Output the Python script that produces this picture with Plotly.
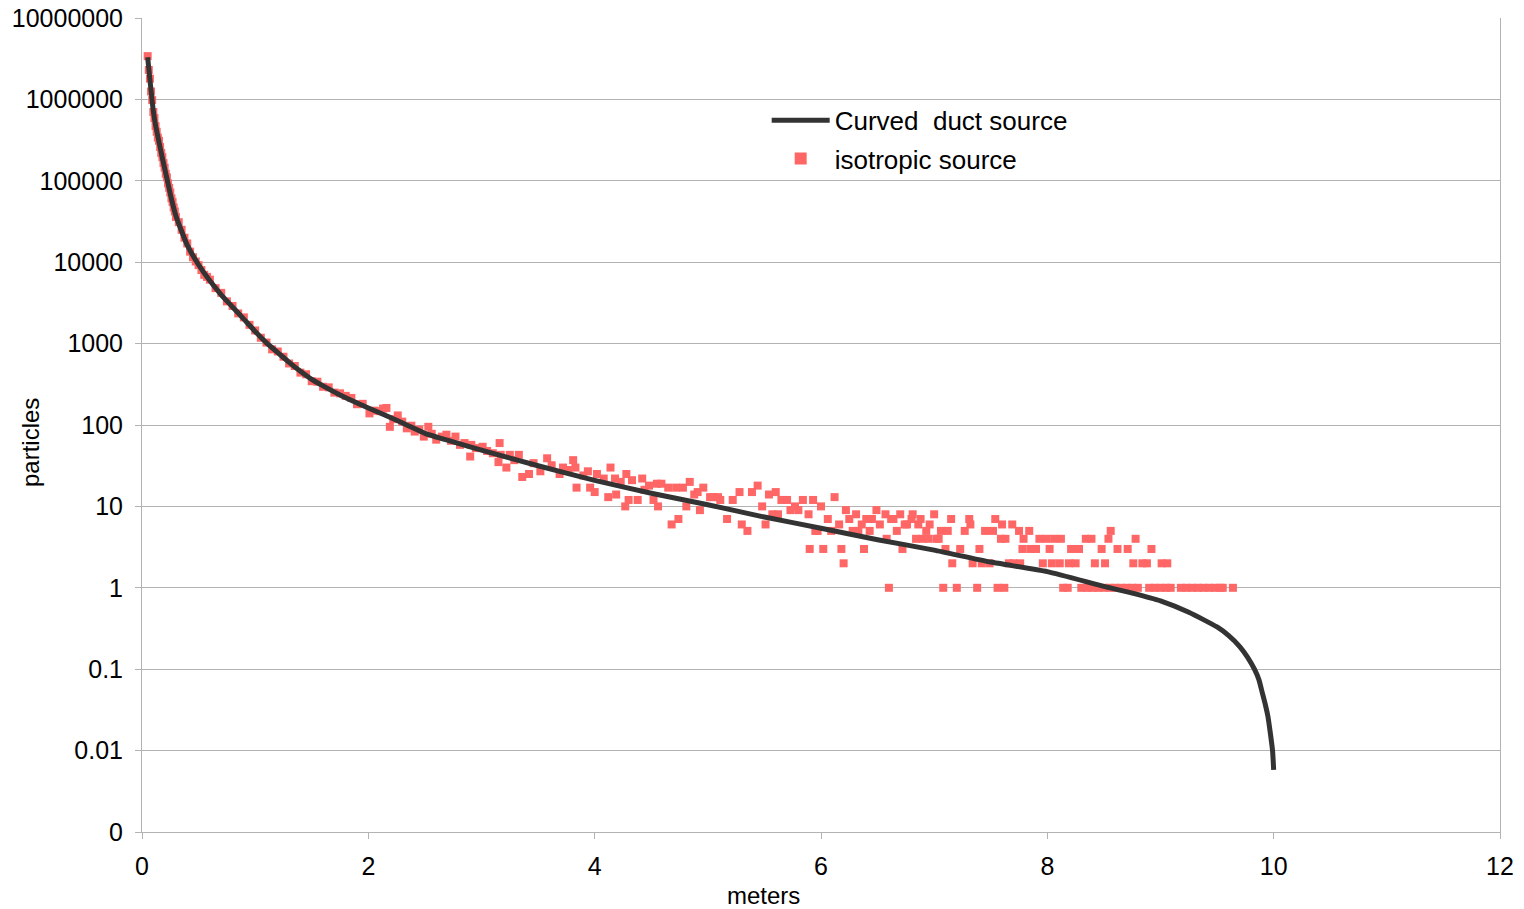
import plotly.graph_objects as go

# Curved duct source (black line)
duct_x = [0.05, 0.06, 0.07, 0.08, 0.09, 0.10, 0.12, 0.15, 0.18, 0.22, 0.26, 0.30,
          0.35, 0.40, 0.50, 0.60, 0.70, 0.80, 0.90, 1.00, 1.10, 1.20, 1.30, 1.40,
          1.50, 1.60, 1.75, 2.00, 2.20, 2.34, 2.50, 2.75, 3.00, 3.50, 4.00, 4.50,
          5.00, 5.50, 6.00, 6.50, 7.00, 7.50, 8.00, 8.50, 8.75, 9.00, 9.25, 9.50,
          9.60, 9.70, 9.77, 9.83, 9.87, 9.90, 9.93, 9.95, 9.97, 9.99, 10.00]
duct_y = [3.3e6, 2.4e6, 1.74e6, 1.29e6, 9.5e5, 7.2e5, 4.8e5, 3.0e5, 1.9e5, 1.07e5, 6.0e4, 3.7e4,
          2.4e4, 1.62e4, 9300, 5900, 3980, 2820, 2000, 1410, 1020, 776, 589, 457,
          363, 302, 234, 162, 123, 100, 79, 62, 49, 31.6, 20.9, 14.5,
          10.5, 7.4, 5.4, 3.9, 2.9, 2.07, 1.58, 1.04, 0.86, 0.69, 0.50, 0.33,
          0.26, 0.19, 0.14, 0.1, 0.074, 0.051, 0.035, 0.026, 0.0166, 0.01, 0.0058]

# Isotropic source (red squares)
iso_x = [0.05, 0.06, 0.07, 0.08, 0.09, 0.10, 0.11, 0.12, 0.13, 0.14,
         0.15, 0.16, 0.17, 0.18, 0.19, 0.20, 0.21, 0.22, 0.23, 0.24,
         0.25, 0.26, 0.27, 0.28, 0.29, 0.30, 0.325, 0.35, 0.375, 0.40,
         0.425, 0.45, 0.475, 0.50, 0.525, 0.55, 0.575, 0.60,
         0.65, 0.70, 0.75, 0.80, 0.85, 0.90, 0.95, 1.00,
         1.05, 1.10, 1.15, 1.20, 1.25, 1.30, 1.35, 1.40, 1.45, 1.50,
         1.55, 1.60, 1.65, 1.70, 1.75, 1.80, 1.85, 1.90, 1.95, 2.01,
         2.05, 2.10, 2.13, 2.16, 2.19, 2.22, 2.26, 2.30, 2.34, 2.38,
         2.41, 2.45, 2.49, 2.53, 2.56, 2.60, 2.65, 2.69, 2.73, 2.77,
         2.81, 2.85, 2.90, 2.91, 2.95, 3.01, 3.05, 3.10, 3.15, 3.16,
         3.17, 3.22, 3.25, 3.29, 3.33, 3.36, 3.42, 3.46, 3.52, 3.58,
         3.62, 3.69, 3.72, 3.77, 3.81, 3.83, 3.84, 3.90, 3.94, 3.96,
         4.00, 4.02, 4.08, 4.12, 4.14, 4.18, 4.19, 4.23, 4.27, 4.28,
         4.30, 4.33, 4.38, 4.42, 4.44, 4.48, 4.52, 4.55, 4.56, 4.59,
         4.65, 4.68, 4.72, 4.74, 4.78, 4.81, 4.84, 4.88, 4.91, 4.93,
         4.96, 5.02, 5.05, 5.09, 5.11, 5.17, 5.22, 5.28, 5.30, 5.35,
         5.39, 5.44, 5.48, 5.51, 5.54, 5.57, 5.60, 5.62, 5.65, 5.70,
         5.73, 5.77, 5.80, 5.84, 5.89, 5.90, 5.93, 5.95, 5.97, 6.00,
         6.02, 6.06, 6.09, 6.12, 6.16, 6.18, 6.20, 6.22, 6.25, 6.28,
         6.31, 6.33, 6.36, 6.38, 6.40, 6.43, 6.45, 6.49, 6.52, 6.57,
         6.58, 6.60, 6.62, 6.64, 6.67, 6.70, 6.72, 6.74, 6.76, 6.80,
         6.81, 6.84, 6.86, 6.88, 6.90, 6.93, 6.95, 6.96, 7.00, 7.02,
         7.04, 7.06, 7.08, 7.10, 7.12, 7.15, 7.16, 7.20, 7.23, 7.27,
         7.31, 7.32, 7.34, 7.38, 7.40, 7.42, 7.45, 7.49, 7.52, 7.54,
         7.56, 7.59, 7.60, 7.62, 7.63, 7.66, 7.69, 7.70, 7.75, 7.76,
         7.79, 7.78, 7.84, 7.85, 7.90, 7.93, 7.96, 7.99, 8.02, 8.04,
         8.06, 8.11, 8.12, 8.14, 8.18, 8.19, 8.21, 8.25, 8.28, 8.30,
         8.34, 8.35, 8.39, 8.40, 8.42, 8.45, 8.48, 8.50, 8.51, 8.54,
         8.55, 8.56, 8.60, 8.62, 8.65, 8.70, 8.71, 8.75, 8.76, 8.78,
         8.80, 8.84, 8.88, 8.90, 8.92, 8.95, 9.00, 9.01, 9.05, 9.06,
         9.09, 9.18, 9.23, 9.28, 9.33, 9.38, 9.43, 9.48, 9.53, 9.55,
         9.64]
iso_y = [3.4e6, 2.3e6, 1.8e6, 1.25e6, 9.8e5, 7.0e5, 5.9e5, 4.7e5, 4.0e5, 3.4e5,
         3.1e5, 2.6e5, 2.2e5, 1.95e5, 1.65e5, 1.45e5, 1.22e5, 1.1e5, 9.3e4, 8.2e4,
         7.2e4, 6.1e4, 5.5e4, 4.7e4, 4.2e4, 3.6e4, 3.1e4, 2.5e4, 2.0e4, 1.7e4,
         1.35e4, 1.15e4, 1.02e4, 9200, 8000, 7000, 6600, 6100,
         4800, 4200, 3300, 2900, 2350, 2100, 1700, 1450,
         1180, 1030, 850, 800, 690, 570, 530, 440, 420, 345,
         340, 295, 290, 250, 245, 228, 215, 180, 182, 139,
         150, 148, 159, 162, 95, 118, 131, 110, 91, 98,
         83, 88, 72, 95, 78, 66, 72, 76, 64, 72,
         57, 60, 41, 57, 52, 54, 48, 45, 35, 60,
         43, 30, 43, 37, 43, 23, 25, 34, 27, 39,
         32, 25, 30, 28, 37, 30, 17, 24, 27, 17,
         15, 25, 22, 13, 30, 22, 14, 20, 10, 25,
         12, 21, 12, 22, 16, 18, 12, 19, 10, 19,
         17, 6, 17, 7, 17, 10, 20, 14, 15, 9,
         17, 13, 13, 13, 12, 7, 12, 15, 6, 5,
         15, 18, 10, 6, 14, 8, 15, 8, 12, 12,
         9, 10, 9, 12, 8, 3, 12, 5, 5, 10,
         3, 7, 5, 13, 6, 3, 2, 9, 7, 5,
         8, 5, 6, 3, 7, 5, 7, 9, 6, 8,
         4, 1, 7, 7, 5, 8, 3, 6, 6, 7,
         8, 4, 6, 7, 4, 5, 4, 6, 8, 4,
         4, 5, 1, 3, 5, 7, 2, 1, 3, 5,
         7, 6, 2, 1, 3, 2, 5, 2, 5, 7,
         1, 4, 6, 1, 4, 2, 6, 2, 5, 2,
         4, 3, 5, 3, 3, 4, 2, 4, 3, 2,
         4, 2, 4, 1, 1, 2, 3, 2, 3, 1,
         4, 1, 4, 1, 2, 1, 3, 1, 2, 4,
         1, 5, 1, 3, 1, 1, 3, 1, 2, 4,
         1, 2, 2, 1, 3, 1, 1, 2, 1, 2,
         1, 1, 1, 1, 1, 1, 1, 1, 1, 1,
         1]

y_tickvals = [1e-3, 1e-2, 1e-1, 1, 10, 100, 1000, 1e4, 1e5, 1e6, 1e7]
y_ticktext = ["0", "0.01", "0.1", "1", "10", "100", "1000", "10000", "100000", "1000000", "10000000"]
x_tickvals = [0, 2, 4, 6, 8, 10, 12]
x_ticktext = ["0", "2", "4", "6", "8", "10", "12"]

FONT = "Liberation Sans, Arial, sans-serif"
GRID = "#b3b3b3"

fig = go.Figure()
fig.add_trace(go.Scatter(
    x=iso_x, y=iso_y, mode="markers", name="isotropic source", legend="legend2",
    marker=dict(symbol="square", size=8, color="#ff6666", line=dict(width=0)),
))
fig.add_trace(go.Scatter(
    x=duct_x, y=duct_y, mode="lines", name="Curved\u00a0 duct source", legend="legend",
    line=dict(color="#333333", width=5, shape="spline", smoothing=0.5),
))

leg_common = dict(
    xanchor="left", yanchor="top", bgcolor="rgba(0,0,0,0)",
    font=dict(family=FONT, size=26, color="black"),
    itemsizing="constant", itemwidth=58, borderwidth=0,
)

fig.update_layout(
    width=1524, height=909,
    margin=dict(l=142, r=24, t=18, b=77),
    paper_bgcolor="white", plot_bgcolor="white",
    font=dict(family=FONT, size=25, color="black"),
    showlegend=True,
    legend=dict(x=0.460, y=0.903, **leg_common),
    legend2=dict(x=0.460, y=0.856, **leg_common),
    xaxis=dict(
        range=[0, 12], tickvals=x_tickvals, ticktext=x_ticktext,
        showgrid=False, zeroline=False, automargin=False,
        showline=True, linecolor=GRID, linewidth=1,
        ticks="outside", ticklen=6, tickcolor=GRID,
        ticklabelstandoff=6,
        tickfont=dict(family=FONT, size=25),
    ),
    yaxis=dict(
        type="log", range=[-3, 7], tickvals=y_tickvals, ticktext=y_ticktext,
        showgrid=True, gridcolor=GRID, gridwidth=1, zeroline=False, automargin=False,
        showline=True, linecolor=GRID, linewidth=1, mirror=True,
        ticks="outside", ticklen=6, tickcolor=GRID,
        ticklabelstandoff=7,
        tickfont=dict(family=FONT, size=25),
    ),
    annotations=[
        dict(text="meters", xref="paper", yref="paper", x=0.4573, y=-0.0775,
             xanchor="center", yanchor="middle", showarrow=False, borderpad=0,
             font=dict(family=FONT, size=24)),
        dict(text="particles", xref="paper", yref="paper", x=-0.0825, y=0.479,
             xanchor="center", yanchor="middle", showarrow=False, textangle=-90,
             borderpad=0, font=dict(family=FONT, size=24)),
    ],
)

fig.write_html("out.html")
